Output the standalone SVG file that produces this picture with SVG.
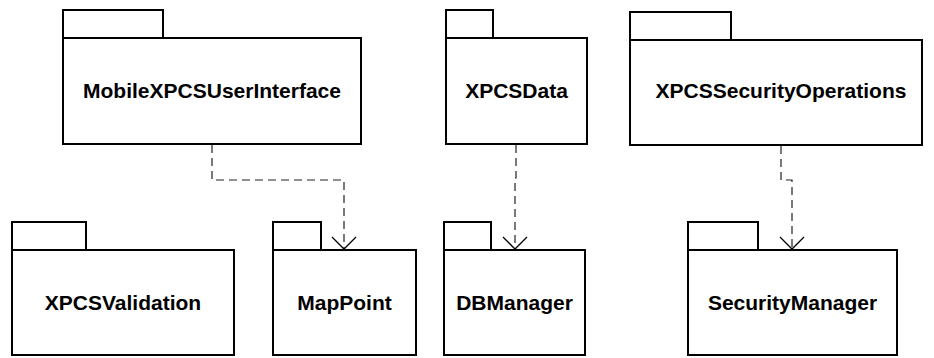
<svg xmlns="http://www.w3.org/2000/svg" width="934" height="358" viewBox="0 0 934 358">
<style>
.pkg{fill:#fff;stroke:#000;stroke-width:2}
.lbl{font-family:"Liberation Sans",Arial,sans-serif;font-weight:bold;font-size:21px;text-anchor:middle;fill:#000}
.dep{fill:none;stroke:#222;stroke-width:1.2;stroke-dasharray:8,5}
.head{fill:none;stroke:#000;stroke-width:1.3}
</style>
<rect width="934" height="358" fill="#fff"/>
<g id="MobileXPCSUserInterface">
<rect class="pkg" x="63" y="10" width="100" height="28"/>
<rect class="pkg" x="63" y="38" width="298" height="106"/>
<text class="lbl" x="212" y="98">MobileXPCSUserInterface</text>
</g>
<g id="XPCSData">
<rect class="pkg" x="446" y="10" width="47" height="28"/>
<rect class="pkg" x="446" y="38" width="141" height="106"/>
<text class="lbl" x="516.5" y="98">XPCSData</text>
</g>
<g id="XPCSSecurityOperations">
<rect class="pkg" x="630" y="12" width="101" height="28"/>
<rect class="pkg" x="630" y="40" width="292" height="105"/>
<text class="lbl" x="781" y="98">XPCSSecurityOperations</text>
</g>
<g id="XPCSValidation">
<rect class="pkg" x="12" y="222" width="74" height="28"/>
<rect class="pkg" x="12" y="250" width="222" height="105"/>
<text class="lbl" x="123" y="310">XPCSValidation</text>
</g>
<g id="MapPoint">
<rect class="pkg" x="273" y="222" width="48" height="28"/>
<rect class="pkg" x="273" y="250" width="143" height="105"/>
<text class="lbl" x="344.5" y="310">MapPoint</text>
</g>
<g id="DBManager">
<rect class="pkg" x="444" y="222" width="47" height="28"/>
<rect class="pkg" x="444" y="250" width="141" height="105"/>
<text class="lbl" x="514.5" y="310">DBManager</text>
</g>
<g id="SecurityManager">
<rect class="pkg" x="688" y="222" width="70" height="28"/>
<rect class="pkg" x="688" y="250" width="209" height="105"/>
<text class="lbl" x="792.5" y="310">SecurityManager</text>
</g>
<g id="connectors">
<path class="dep" d="M212,145 V180 H344 V249"/>
<path class="head" d="M332,237 L344,249 L356,237"/>
<path class="dep" d="M516,145 V178 H515 V249"/>
<path class="head" d="M503,237 L515,249 L527,237"/>
<path class="dep" d="M781,146 V180 H792 V249"/>
<path class="head" d="M780,237 L792,249 L804,237"/>
</g>
</svg>
